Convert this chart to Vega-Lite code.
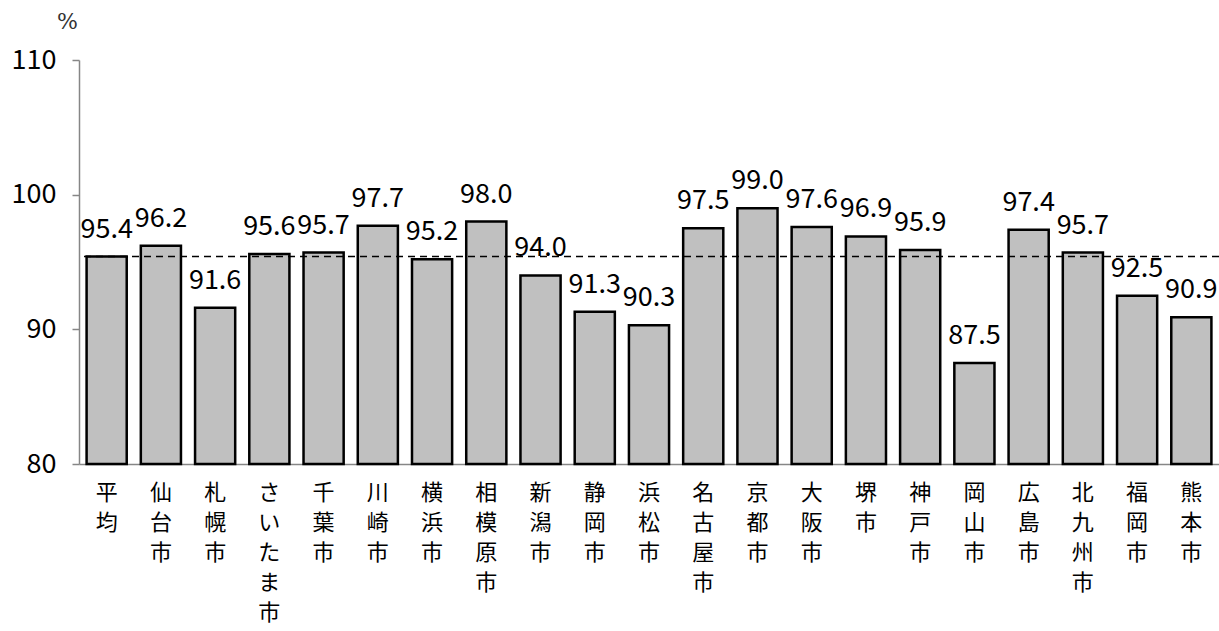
{
  "$schema": "https://vega.github.io/schema/vega-lite/v6.json",
  "autosize": {"type": "none"},
  "width": 1140,
  "height": 404,
  "padding": {"left": 79, "top": 60, "right": 0, "bottom": 167},
  "background": "white",
  "config": {"view": {"stroke": null}},
  "data": {"values": [
    {"city": "平均", "value": 95.4},
    {"city": "仙台市", "value": 96.2},
    {"city": "札幌市", "value": 91.6},
    {"city": "さいたま市", "value": 95.6},
    {"city": "千葉市", "value": 95.7},
    {"city": "川崎市", "value": 97.7},
    {"city": "横浜市", "value": 95.2},
    {"city": "相模原市", "value": 98.0},
    {"city": "新潟市", "value": 94.0},
    {"city": "静岡市", "value": 91.3},
    {"city": "浜松市", "value": 90.3},
    {"city": "名古屋市", "value": 97.5},
    {"city": "京都市", "value": 99.0},
    {"city": "大阪市", "value": 97.6},
    {"city": "堺市", "value": 96.9},
    {"city": "神戸市", "value": 95.9},
    {"city": "岡山市", "value": 87.5},
    {"city": "広島市", "value": 97.4},
    {"city": "北九州市", "value": 95.7},
    {"city": "福岡市", "value": 92.5},
    {"city": "熊本市", "value": 90.9}
  ]},
  "encoding": {
    "x": {
      "field": "city", "type": "nominal", "sort": null,
      "scale": {"paddingInner": 0.26, "paddingOuter": 0.14},
      "axis": {
        "title": null, "labelAngle": 0, "ticks": false,
        "labelExpr": "split(datum.label, '')",
        "labelFont": "Noto Sans CJK JP", "labelFontSize": 22, "labelColor": "black",
        "labelLineHeight": 30, "labelPadding": 18, "labelBaseline": "top",
        "domainColor": "#868686", "domainWidth": 1.5
      }
    }
  },
  "layer": [
    {
      "mark": {"type": "bar", "fill": "#c0c0c0", "stroke": "black", "strokeWidth": 2.5},
      "encoding": {
        "y": {
          "field": "value", "type": "quantitative",
          "scale": {"domain": [80, 110], "zero": false, "nice": false},
          "axis": {
            "values": [80, 90, 100, 110], "grid": false,
            "title": "%", "titleAngle": 0, "titleX": -12, "titleY": -27,
            "titleAlign": "center", "titleBaseline": "bottom",
            "titleFont": "DejaVu Serif", "titleFontSize": 22, "titleFontWeight": "normal", "titleColor": "#333",
            "labelFont": "Noto Sans CJK JP", "labelFontSize": 27, "labelColor": "black", "labelPadding": 16,
            "tickSize": 7, "tickColor": "#868686", "tickWidth": 1.5,
            "domainColor": "#868686", "domainWidth": 1.5
          }
        },
        "y2": {"datum": 80}
      }
    },
    {
      "mark": {"type": "text", "baseline": "alphabetic", "dy": -19, "font": "Noto Sans CJK JP", "fontSize": 27, "color": "black"},
      "encoding": {
        "y": {"field": "value", "type": "quantitative"},
        "text": {"field": "value", "type": "quantitative", "format": ".1f"}
      }
    },
    {
      "data": {"values": [{"avg": 95.4}]},
      "mark": {"type": "rule", "color": "black", "strokeWidth": 1.5, "strokeDash": [7, 5]},
      "encoding": {
        "y": {"field": "avg", "type": "quantitative"},
        "x": null
      }
    }
  ]
}
